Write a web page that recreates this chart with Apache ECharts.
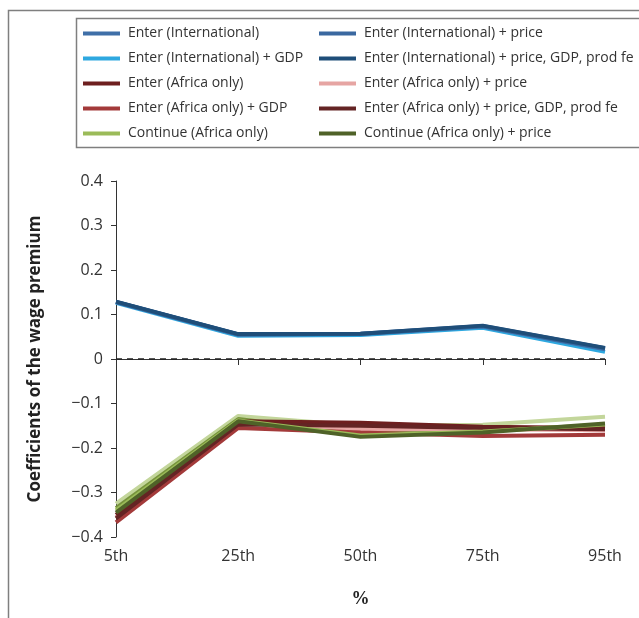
<!DOCTYPE html>
<html>
<head>
<meta charset="utf-8">
<script src="https://cdn.jsdelivr.net/npm/echarts@6/dist/echarts.min.js"></script>
<style>
  html, body { margin: 0; padding: 0; background: #fff; }
  #chart { width: 639px; height: 618px; }
</style>
</head>
<body>
<div id="chart"></div>
<script>
// Wage-premium coefficients by wage percentile
const percentiles = ['5th', '25th', '50th', '75th', '95th'];
const yTicks = [0.4, 0.3, 0.2, 0.1, 0, -0.1, -0.2, -0.3, -0.4];

const enterIntl           = [0.128, 0.055, 0.056, 0.073, 0.022];
const enterIntlPrice      = [0.128, 0.055, 0.057, 0.074, 0.024];
const enterIntlGdp        = [0.126, 0.052, 0.054, 0.070, 0.016];
const enterIntlFull       = [0.129, 0.056, 0.057, 0.075, 0.025];
const enterAfrica         = [-0.350, -0.140, -0.143, -0.152, -0.155];
const enterAfricaPrice    = [-0.355, -0.143, -0.158, -0.158, -0.160];
const enterAfricaGdp      = [-0.367, -0.155, -0.165, -0.173, -0.170];
const enterAfricaFull     = [-0.358, -0.147, -0.150, -0.155, -0.158];
const contAfrica          = [-0.325, -0.128, -0.150, -0.148, -0.130];
const contAfricaPrice     = [-0.345, -0.140, -0.175, -0.165, -0.145];
const contAfricaGdp       = [-0.335, -0.135, -0.168, -0.160, -0.150];
const contAfricaFull      = [-0.340, -0.138, -0.172, -0.163, -0.147];

const seriesDefs = [
  { name: 'Continue (Africa only)', data: contAfrica, color: '#c3d69b', legend: '#9bbb59' },
  { name: 'Continue (Africa only) + GDP', data: contAfricaGdp, color: '#77933c' },
  { name: 'Enter (Africa only) + price', data: enterAfricaPrice, color: '#e6a5a3' },
  { name: 'Enter (Africa only)', data: enterAfrica, color: '#6e1f1f' },
  { name: 'Enter (Africa only) + GDP', data: enterAfricaGdp, color: '#a33a3a' },
  { name: 'Enter (Africa only) + price, GDP, prod fe', data: enterAfricaFull, color: '#642424' },
  { name: 'Continue (Africa only) + price, GDP, prod fe', data: contAfricaFull, color: '#9bbb59' },
  { name: 'Continue (Africa only) + price', data: contAfricaPrice, color: '#4f6228' },
  { name: 'Enter (International) + GDP', data: enterIntlGdp, color: '#2ea8e0' },
  { name: 'Enter (International)', data: enterIntl, color: '#3f6fa8' },
  { name: 'Enter (International) + price', data: enterIntlPrice, color: '#3a68a0' },
  { name: 'Enter (International) + price, GDP, prod fe', data: enterIntlFull, color: '#1f4e79' }
];

const legendLeft = ['Enter (International)', 'Enter (International) + GDP', 'Enter (Africa only)',
                    'Enter (Africa only) + GDP', 'Continue (Africa only)'];
const legendRight = ['Enter (International) + price', 'Enter (International) + price, GDP, prod fe',
                     'Enter (Africa only) + price', 'Enter (Africa only) + price, GDP, prod fe',
                     'Continue (Africa only) + price'];

const FONT = '"Open Sans", sans-serif';
const legendColor = {};
seriesDefs.forEach(s => { legendColor[s.name] = s.legend || s.color; });

const series = seriesDefs.map((s, i) => ({
  name: s.name,
  type: 'line',
  data: s.data,
  symbol: 'none',
  color: legendColor[s.name],
  lineStyle: { color: s.color, width: 4 },
  z: 3,
  emphasis: { disabled: true },
  markLine: i === 0 ? {
    silent: true,
    symbol: 'none',
    label: { show: false },
    lineStyle: { color: '#222', type: [6, 5], width: 1.6 },
    data: [{ yAxis: 0 }],
    z: 1
  } : undefined
}));

function legendCfg(left, names) {
  return {
    orient: 'vertical',
    left: left,
    top: 21,
    data: names,
    icon: 'rect',
    itemWidth: 37,
    itemHeight: 4,
    itemGap: 10,
    selectedMode: false,
    textStyle: { fontFamily: FONT, fontSize: 14, color: '#333', lineHeight: 15, padding: [0, 0, 0, 3] }
  };
}

const chart = echarts.init(document.getElementById('chart'), null, { renderer: 'canvas' });
chart.setOption({
  animation: false,
  backgroundColor: '#fff',
  legend: [legendCfg(78, legendLeft), legendCfg(314, legendRight)],
  grid: { left: 116, right: 34, top: 181, bottom: 81, containLabel: false },
  xAxis: {
    type: 'category',
    data: percentiles,
    boundaryGap: false,
    name: '%',
    nameLocation: 'middle',
    nameGap: 53,
    nameTextStyle: { fontFamily: '"Liberation Serif", serif', fontWeight: 'bold', fontSize: 18, color: '#222' },
    axisLine: { lineStyle: { color: '#333', width: 1 } },
    axisTick: { show: true, length: 6, alignWithLabel: true, lineStyle: { color: '#333' } },
    axisLabel: { fontFamily: FONT, fontSize: 16, color: '#333', margin: 11 },
    splitLine: { show: false }
  },
  yAxis: {
    type: 'value',
    min: -0.4,
    max: 0.4,
    interval: 0.1,
    name: 'Coefficients of the wage premium',
    nameLocation: 'middle',
    nameGap: 72,
    nameRotate: 90,
    nameTextStyle: { fontFamily: FONT, fontWeight: 'bold', fontSize: 17, color: '#222' },
    axisLine: { show: true, lineStyle: { color: '#333', width: 1 } },
    axisTick: { show: true, length: 5, lineStyle: { color: '#333' } },
    axisLabel: {
      fontFamily: FONT, fontSize: 16, color: '#333', margin: 13,
      formatter: v => {
        const t = yTicks.find(x => Math.abs(x - v) < 1e-9);
        const val = t === undefined ? v : t;
        return val === 0 ? '0' : String(val).replace('-', '\u2212');
      }
    },
    splitLine: { show: false }
  },
  graphic: [
    { type: 'polyline', silent: true, z: 10,
      shape: { points: [[8.5, 618], [8.5, 10.5], [639, 10.5]] },
      style: { stroke: '#7f7f7f', lineWidth: 1.5, fill: null } },
    { type: 'rect', silent: true, z: 10,
      shape: { x: 76.5, y: 18.5, width: 600, height: 129 },
      style: { stroke: '#7f7f7f', lineWidth: 1.5, fill: null } }
  ],
  series: series
});
</script>
</body>
</html>
